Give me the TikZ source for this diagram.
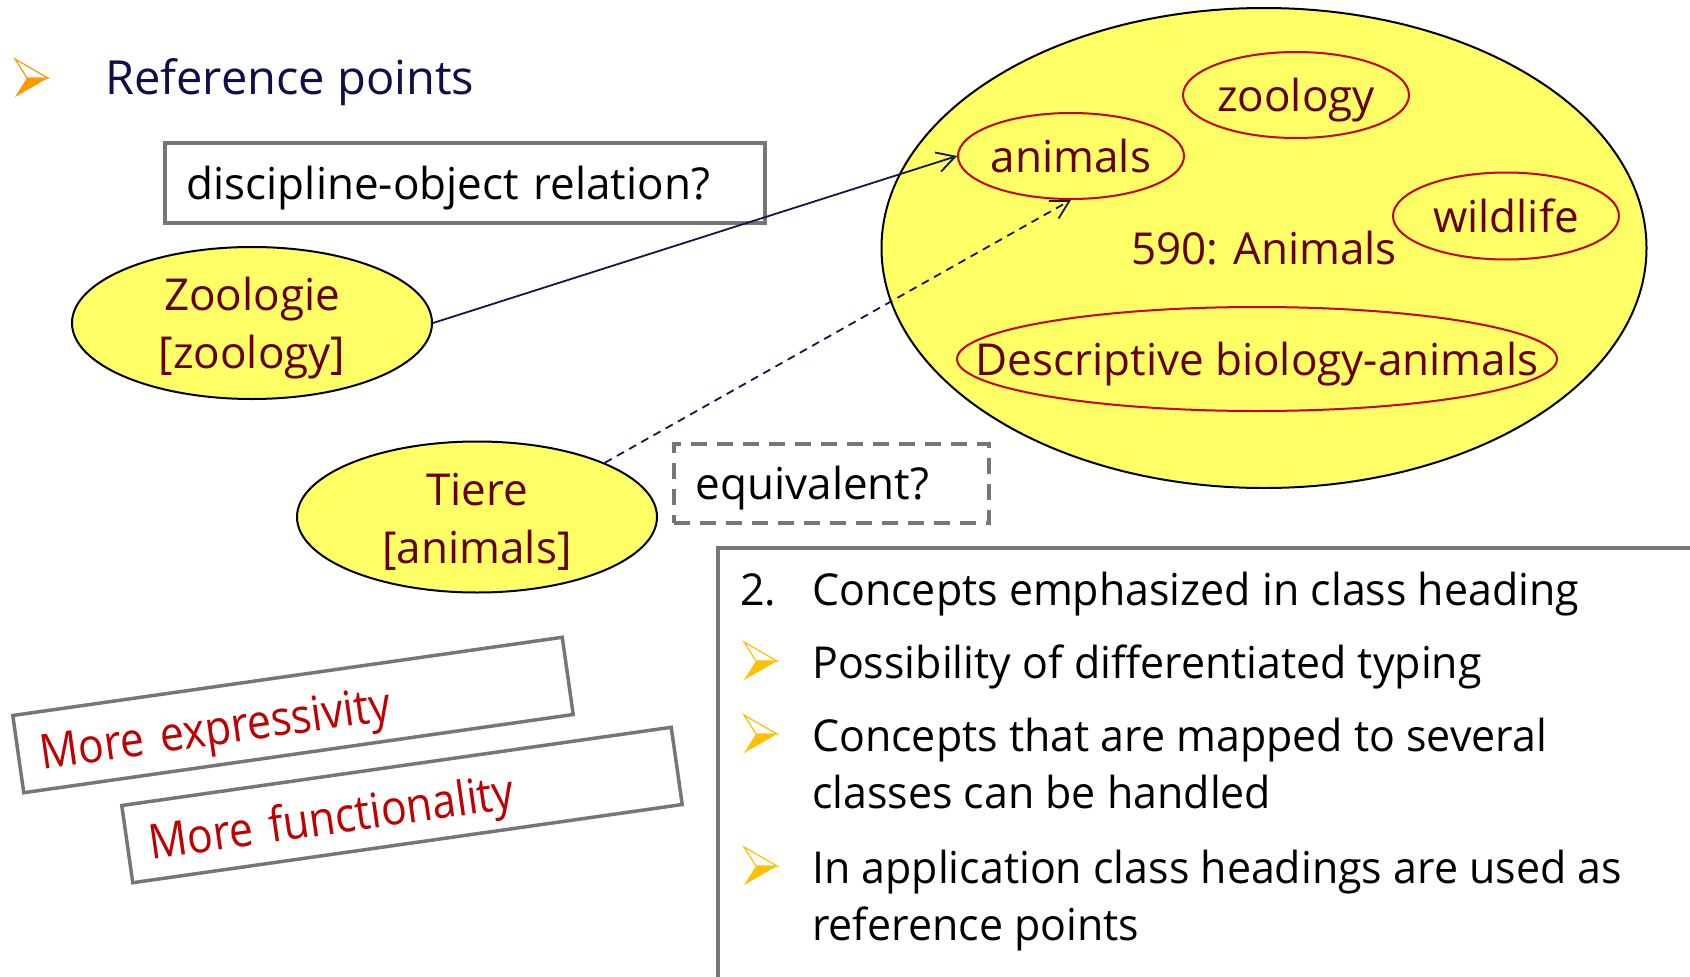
\documentclass[tikz,border=0pt]{standalone}
\usepackage{fontspec}
\setmainfont{Open Sans}
\newfontfamily\listfont{Open Sans}[FakeStretch=0.975]
\newfontfamily\redfont{Open Sans}[FakeStretch=0.89]
\usetikzlibrary{shapes.geometric,arrows.meta}
\definecolor{navy}{RGB}{14,14,74}
\definecolor{maroon}{RGB}{102,0,0}
\definecolor{ovalfill}{RGB}{255,255,102}
\definecolor{ovalred}{RGB}{204,0,0}
\definecolor{boxgray}{RGB}{118,118,118}
\definecolor{redtext}{RGB}{192,0,0}
\definecolor{arrowblue}{RGB}{16,24,72}
\definecolor{bulletorange}{RGB}{255,153,0}
\definecolor{bulletgold}{RGB}{255,192,0}
\tikzset{
  pics/bulletmark/.style={code={
    \fill[#1] (12,0) -- (33,0) -- (0,19) -- cycle;
    \filldraw[fill=white, draw=#1, line width=1.2pt, line join=miter] (0,-19) -- (33,0) -- (12,0) -- cycle;
  }}
}
\begin{document}
\begin{tikzpicture}[x=1pt,y=-1pt,
  every node/.style={font=\fontsize{44}{58}\selectfont, inner sep=0pt},
  bigoval/.style={ellipse, draw=black, line width=2pt, fill=ovalfill},
  smalloval/.style={ellipse, draw=ovalred, line width=2pt},
  ovaltext/.style={text=maroon, align=center},
  oneline/.style={text height=45pt, text depth=12pt},
  framebox/.style={draw=boxgray, line width=3.5pt},
  dashbox/.style={draw=boxgray, line width=3.5pt, dash pattern=on 16pt off 10pt},
  link/.style={draw=arrowblue, line width=1.8pt, -{Straight Barb[length=18pt,width=20pt,line width=1.8pt]}},
  dashlink/.style={link, dash pattern=on 8pt off 6pt},
  tilted/.style={framebox, rotate=8.1, minimum height=78pt, text width=511pt, inner xsep=22pt,
    align=left, text=redtext, text height=48pt, text depth=10pt, font=\redfont\fontsize{48}{58}\selectfont},
  itemtext/.style={anchor=base west, text=black, font=\listfont\fontsize{44}{58}\selectfont}
]
\useasboundingbox (0,0) rectangle (1690,977);
\clip (0,0) rectangle (1690,977);

% heading
\pic at (15,78) {bulletmark=bulletorange};
\node[anchor=base west, text=navy, font=\fontsize{47}{58}\selectfont] (head) at (105,94) {Reference points};

% question box
\node[framebox, oneline, anchor=north west, minimum height=80pt, text width=556pt, inner xsep=22pt, align=left] (relq) at (163,141) {discipline-object relation?};

% class ellipse with its terms
\node[bigoval, minimum width=765pt, minimum height=480pt] (cls) at (1264,248) {};
\node[smalloval, minimum width=226pt, minimum height=86pt] (zoo) at (1296,95) {};
\node[smalloval, minimum width=226pt, minimum height=86pt] (ani) at (1071,156) {};
\node[smalloval, minimum width=226pt, minimum height=87pt] (wild) at (1506,216) {};
\node[smalloval, minimum width=600pt, minimum height=104pt] (desc) at (1257,359) {};
\node[ovaltext, oneline] (zootxt) at (zoo) {zoology};
\node[ovaltext, oneline] (anitxt) at (ani) {animals};
\node[ovaltext, oneline] (wildtxt) at (wild) {wildlife};
\node[ovaltext, oneline] (clstxt) at (1264,248) {590: Animals};
\node[ovaltext, oneline] (desctxt) at (desc) {Descriptive biology-animals};

% subject headings
\node[bigoval, minimum width=360pt, minimum height=152pt] (zoologie) at (252,323) {};
\node[ovaltext, yshift=-5pt] (zoologietxt) at (zoologie) {Zoologie\\{}[zoology]};
\node[bigoval, minimum width=360pt, minimum height=151pt] (tiere) at (477,517) {};
\node[ovaltext, yshift=-5pt] (tieretxt) at (tiere) {Tiere\\{}[animals]};

% equivalence box
\node[dashbox, oneline, anchor=north west, minimum width=315pt, minimum height=79pt, text width=271pt, inner xsep=22pt, align=left] (equiv) at (672,442) {equivalent?};

% links
\draw[link] (zoologie.east) -- (ani.west);
\draw[dashlink] (tiere.23) -- (ani.south);

% tilted labels
\node[tilted] (expr) at (293,715) {More expressivity};
\node[tilted] (func) at (402,805) {More functionality};

% list box
\draw[framebox] (718,548) rectangle (1720,1010);
\node[itemtext] (num) at (740,605) {2.};
\node[itemtext] (l1) at (812,605) {Concepts emphasized in class heading};
\pic at (744,661) {bulletmark=bulletgold};
\node[itemtext] (l2) at (812,678) {Possibility of differentiated typing};
\pic at (744,734) {bulletmark=bulletgold};
\node[itemtext] (l3) at (812,751) {Concepts that are mapped to several};
\node[itemtext] (l3b) at (812,808) {classes can be handled};
\pic at (744,866) {bulletmark=bulletgold};
\node[itemtext] (l4) at (812,883) {In application class headings are used as};
\node[itemtext] (l4b) at (812,940) {reference points};
\end{tikzpicture}
\end{document}
